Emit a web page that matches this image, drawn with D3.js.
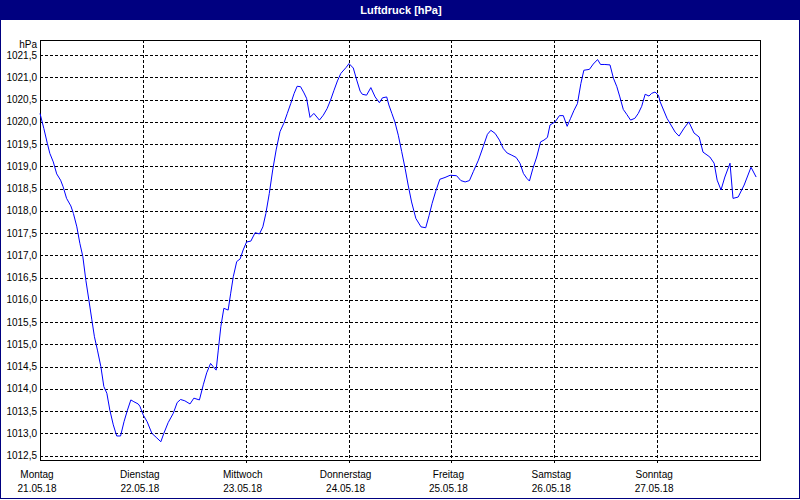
<!DOCTYPE html>
<html><head><meta charset="utf-8">
<script src="https://cdn.jsdelivr.net/npm/d3@7"></script>
<style>body{margin:0;background:#fff}svg{display:block}</style>
</head><body>
<svg id="c" width="800" height="500"></svg>
<script>
const title = "Luftdruck [hPa]";
const unit = "hPa";
const dayNames = ["Montag","Dienstag","Mittwoch","Donnerstag","Freitag","Samstag","Sonntag"];
const dayDates = ["21.05.18","22.05.18","23.05.18","24.05.18","25.05.18","26.05.18","27.05.18"];
const yTicks = [1012.5,1013.0,1013.5,1014.0,1014.5,1015.0,1015.5,1016.0,1016.5,1017.0,1017.5,1018.0,1018.5,1019.0,1019.5,1020.0,1020.5,1021.0,1021.5];
// hours since 21.05.18 00:00
const hours = [0,0.9,1.7,2.3,3.1,3.9,4.8,5.4,6.2,7.2,7.8,8.6,9.3,10.0,10.7,11.4,12.1,12.7,13.4,14.2,14.9,15.6,16.3,17.1,17.9,18.8,19.6,20.4,21.2,21.9,22.9,23.3,24.1,25.0,26.1,27.1,28.2,28.9,29.9,31.1,32.0,32.8,33.8,35.0,35.9,37.2,38.1,38.9,39.8,40.4,41.1,41.6,42.2,42.9,43.9,44.5,45.1,45.9,46.7,47.4,48.2,49.2,50.2,51.2,52.0,52.7,53.5,54.3,55.1,56.0,56.9,57.7,58.5,59.3,60.0,60.8,61.6,62.2,63.0,63.9,65.2,66.1,67.0,67.8,68.6,69.4,70.2,71.4,72.1,73.1,73.9,74.7,75.2,76.2,77.2,78.2,79.2,79.9,80.9,81.4,82.1,82.8,83.6,84.4,85.2,85.9,86.7,87.7,88.9,90.0,90.8,91.5,92.3,93.3,94.5,95.7,97.2,98.2,99.2,100.2,101.1,102.3,103.4,104.4,105.2,106.2,107.2,108.1,109.0,110.1,111.1,112.0,112.8,113.6,114.2,115.0,115.9,116.8,117.6,118.4,119.0,120.2,121.2,122.1,123.0,123.8,124.6,125.4,126.2,126.9,128.2,129.1,130.1,130.8,131.8,133.0,133.8,134.6,135.3,136.1,136.9,137.8,138.8,139.6,140.4,141.2,142.1,142.7,143.5,144.3,144.7,146.3,148.2,149.1,150.3,151.4,152.6,153.8,154.7,156.3,157.3,158.0,158.9,159.8,161.0,161.7,162.9,164.3,165.9,167.1];
const pressure = [1020.19,1019.85,1019.52,1019.29,1019.10,1018.83,1018.69,1018.54,1018.28,1018.11,1017.94,1017.64,1017.27,1016.97,1016.44,1016.00,1015.55,1015.17,1014.87,1014.50,1014.05,1013.90,1013.52,1013.19,1012.94,1012.94,1013.26,1013.52,1013.75,1013.71,1013.66,1013.61,1013.41,1013.26,1013.00,1012.91,1012.81,1013.00,1013.24,1013.45,1013.69,1013.76,1013.73,1013.66,1013.79,1013.75,1014.09,1014.36,1014.57,1014.50,1014.42,1014.87,1015.40,1015.81,1015.77,1016.15,1016.52,1016.86,1016.92,1017.12,1017.30,1017.32,1017.51,1017.48,1017.64,1017.94,1018.39,1018.92,1019.37,1019.78,1019.97,1020.19,1020.41,1020.64,1020.80,1020.79,1020.65,1020.53,1020.10,1020.19,1020.04,1020.15,1020.30,1020.49,1020.71,1020.92,1021.09,1021.22,1021.31,1021.21,1020.94,1020.69,1020.62,1020.60,1020.77,1020.56,1020.43,1020.54,1020.56,1020.38,1020.19,1020.00,1019.70,1019.33,1018.95,1018.58,1018.20,1017.83,1017.64,1017.62,1017.90,1018.17,1018.43,1018.71,1018.75,1018.80,1018.79,1018.68,1018.65,1018.68,1018.88,1019.14,1019.44,1019.72,1019.81,1019.74,1019.59,1019.40,1019.30,1019.25,1019.20,1019.07,1018.84,1018.73,1018.67,1018.95,1019.21,1019.55,1019.59,1019.65,1019.93,1020.00,1020.14,1020.14,1019.90,1020.08,1020.26,1020.41,1020.86,1021.16,1021.18,1021.30,1021.40,1021.29,1021.29,1021.28,1020.98,1020.79,1020.56,1020.28,1020.17,1020.04,1020.08,1020.19,1020.35,1020.62,1020.58,1020.64,1020.67,1020.60,1020.45,1020.08,1019.77,1019.68,1019.86,1020.00,1019.75,1019.66,1019.32,1019.21,1019.07,1018.69,1018.47,1018.76,1019.07,1018.28,1018.31,1018.58,1018.98,1018.76];

const svg = d3.select("#c");
const font = "'Liberation Sans', Arial, sans-serif";
const L = 40, R = 760, T = 40, B = 460;
const x = d3.scaleLinear().domain([0, 168]).range([L, R]);
const y = d3.scaleLinear().domain([1012.4, 1021.84]).range([B, T]);

// background & frame
svg.append("rect").attr("x",0).attr("y",0).attr("width",800).attr("height",500).attr("fill","#fff");
svg.append("rect").attr("x",0).attr("y",0).attr("width",800).attr("height",20).attr("fill","#000080");
svg.append("rect").attr("x",0.5).attr("y",0.5).attr("width",799).attr("height",498).attr("fill","none").attr("stroke","#000080").attr("shape-rendering","crispEdges");
svg.append("text").attr("x",401).attr("y",14).attr("text-anchor","middle").attr("fill","#fff")
  .attr("font-family",font).attr("font-size","11px").attr("font-weight","bold").text(title);

const g = svg.append("g").attr("shape-rendering","crispEdges");
// horizontal grid
g.selectAll("line.h").data(yTicks).join("line")
  .attr("x1",L).attr("x2",R).attr("y1",d=>Math.round(y(d))+0.5).attr("y2",d=>Math.round(y(d))+0.5)
  .attr("stroke","#000").attr("stroke-dasharray","3,2");
// vertical grid
const dayIdx = d3.range(dayNames.length);
g.selectAll("line.v").data(dayIdx.slice(1)).join("line")
  .attr("x1",d=>Math.round(x(d*24))+0.5).attr("x2",d=>Math.round(x(d*24))+0.5)
  .attr("y1",T).attr("y2",B+4)
  .attr("stroke","#000").attr("stroke-dasharray","3,2");
// plot border
g.append("rect").attr("x",L+0.5).attr("y",T+0.5).attr("width",R-L).attr("height",B-T)
  .attr("fill","none").attr("stroke","#000");

// y labels
svg.selectAll("text.yl").data(yTicks).join("text")
  .attr("x",37).attr("y",d=>y(d)+3.5).attr("text-anchor","end")
  .attr("font-family",font).attr("font-size","10px").attr("fill","#000")
  .text(d=>d.toFixed(1).replace(".",","));
svg.append("text").attr("x",37).attr("y",48).attr("text-anchor","end")
  .attr("font-family",font).attr("font-size","10px").attr("fill","#000").text(unit);

// x labels
svg.selectAll("text.xn").data(dayIdx).join("text")
  .attr("x",d=>x(d*24)-3).attr("y",478).attr("text-anchor","middle")
  .attr("font-family",font).attr("font-size","10px").attr("fill","#000")
  .text(d=>dayNames[d]);
svg.selectAll("text.xd").data(dayIdx).join("text")
  .attr("x",d=>x(d*24)-3).attr("y",492).attr("text-anchor","middle")
  .attr("font-family",font).attr("font-size","10px").attr("fill","#000")
  .text(d=>dayDates[d]);

// line
const pts = hours.map((h,i)=>[h, pressure[i]]);
svg.append("path").datum(pts)
  .attr("d", d3.line().x(d=>x(d[0])).y(d=>y(d[1])))
  .attr("fill","none").attr("stroke","#0000ff").attr("stroke-width",1);
</script>
</body></html>
